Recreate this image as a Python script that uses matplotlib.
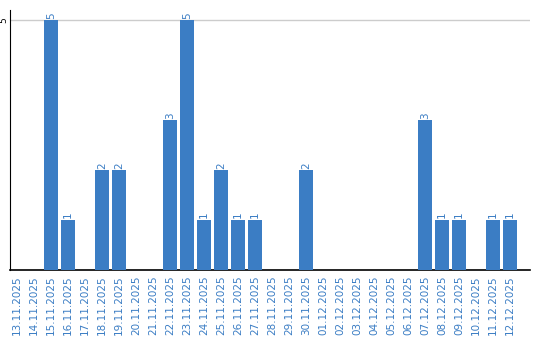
import matplotlib
matplotlib.use("Agg")
import matplotlib.pyplot as plt

# 数据
dates = ["13.11.2025", "14.11.2025", "15.11.2025", "16.11.2025", "17.11.2025",
         "18.11.2025", "19.11.2025", "20.11.2025", "21.11.2025", "22.11.2025",
         "23.11.2025", "24.11.2025", "25.11.2025", "26.11.2025", "27.11.2025",
         "28.11.2025", "29.11.2025", "30.11.2025", "01.12.2025", "02.12.2025",
         "03.12.2025", "04.12.2025", "05.12.2025", "06.12.2025", "07.12.2025",
         "08.12.2025", "09.12.2025", "10.12.2025", "11.12.2025", "12.12.2025"]
counts = [0, 0, 5, 1, 0, 2, 2, 0, 0, 3,
          5, 1, 2, 1, 1, 0, 0, 2, 0, 0,
          0, 0, 0, 0, 3, 1, 1, 0, 1, 1]
yticks = [5]

blue = "#3b7dc4"

fig = plt.figure(figsize=(5.4, 3.4), dpi=100)
ax = fig.add_axes([10 / 540, 70 / 340, 520 / 540, 260 / 340])

x = list(range(len(dates)))
ax.bar(x, counts, width=0.82, color=blue, zorder=3)

# 柱顶数值
for xi, c in zip(x, counts):
    if c > 0:
        ax.text(xi, c + 0.03, str(c), rotation=90, ha="center", va="bottom",
                fontsize=7.5, color=blue, zorder=4)

ax.set_xlim(-0.41, 30.18)
ax.set_ylim(0, 5.2)
ax.set_xticks(x)
ax.set_xticklabels(dates, rotation=90, fontsize=7.5, color=blue)
ax.set_yticks(yticks)
ax.set_yticklabels([str(t) for t in yticks], rotation=90, fontsize=6.5, va="center")
ax.tick_params(axis="x", length=0, pad=4)
ax.tick_params(axis="y", length=0, pad=1.5)
ax.grid(axis="y", color="#cccccc", linewidth=1, zorder=0)

for side in ["top", "right"]:
    ax.spines[side].set_visible(False)
ax.spines["left"].set_color("black")
ax.spines["bottom"].set_color("black")
ax.spines["bottom"].set_linewidth(1.2)

fig.savefig("out.png", dpi=100)
